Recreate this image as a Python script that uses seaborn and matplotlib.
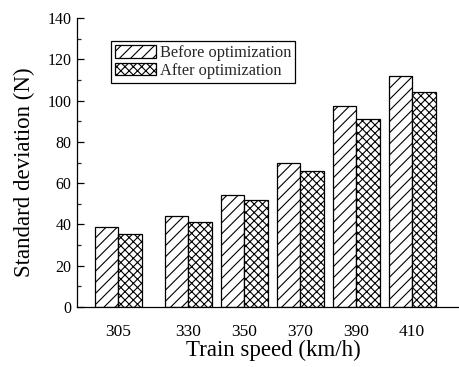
import matplotlib
matplotlib.use("Agg")
import matplotlib.pyplot as plt
from matplotlib.patches import Patch
from matplotlib.ticker import MultipleLocator
import seaborn as sns
import pandas as pd

speeds = [305, 330, 350, 370, 390, 410]
before = [38.6, 44.1, 54.1, 69.8, 97.6, 111.8]
after = [35.4, 41.0, 51.9, 66.0, 91.3, 104.2]
series = ["Before optimization", "After optimization"]
hatches = ["///", "xxxx"]

df = pd.DataFrame({
    "speed": speeds * 2,
    "value": before + after,
    "series": [series[0]] * len(speeds) + [series[1]] * len(speeds),
})

sns.set_style("ticks")
plt.rcParams["font.family"] = ["Liberation Serif", "DejaVu Serif"]
plt.rcParams["hatch.linewidth"] = 0.8

fig = plt.figure(figsize=(4.59, 3.67), dpi=100)
ax = fig.add_axes([77 / 459, 1 - 307 / 367, 1 - 77 / 459, (307 - 18) / 367])

sns.barplot(data=df, x="speed", y="value", hue="series", hue_order=series,
            native_scale=True, width=0.84, palette=["white", "white"],
            edgecolor="black", linewidth=0.9, ax=ax, legend=False)

for cont, h in zip(ax.containers, hatches):
    for bar in cont:
        bar.set_hatch(h)
        bar.set_edgecolor("black")

ax.set_xlim(290.2, 426.8)
ax.set_ylim(0, 140)
ax.set_xticks(speeds)
ax.set_xticklabels([str(s) for s in speeds])
ax.yaxis.set_major_locator(MultipleLocator(20))
ax.yaxis.set_minor_locator(MultipleLocator(10))
ax.tick_params(axis="y", which="major", direction="in", length=5, width=0.9,
               labelsize=11.5, pad=4, color="black", labelcolor="black")
ax.tick_params(axis="y", which="minor", direction="in", length=3, width=0.9)
ax.tick_params(axis="x", length=0, labelsize=12.5, pad=12, labelcolor="black")

for s in ["top", "right"]:
    ax.spines[s].set_visible(False)
for s in ["left", "bottom"]:
    ax.spines[s].set_color("black")
    ax.spines[s].set_linewidth(0.9)

ax.set_xlabel("Train speed (km/h)", fontsize=16.5, labelpad=0, color="black")
ax.set_ylabel("Standard deviation (N)", fontsize=16.5, labelpad=9, color="black")
ax.yaxis.label.set_y(0.465)
ax.xaxis.label.set_x(0.513)

handles = [Patch(facecolor="white", edgecolor="black", hatch=h, linewidth=0.9)
           for h in hatches]
leg = ax.legend(handles, series, loc="upper left", bbox_to_anchor=(0.09, 0.92),
                fontsize=11.8, frameon=True, fancybox=False, edgecolor="black",
                framealpha=1, handlelength=2.5, handleheight=0.8,
                handletextpad=0.2, borderpad=0.25, labelspacing=0.1,
                borderaxespad=0)
leg.get_frame().set_linewidth(0.9)

fig.savefig("out.png", dpi=100)
